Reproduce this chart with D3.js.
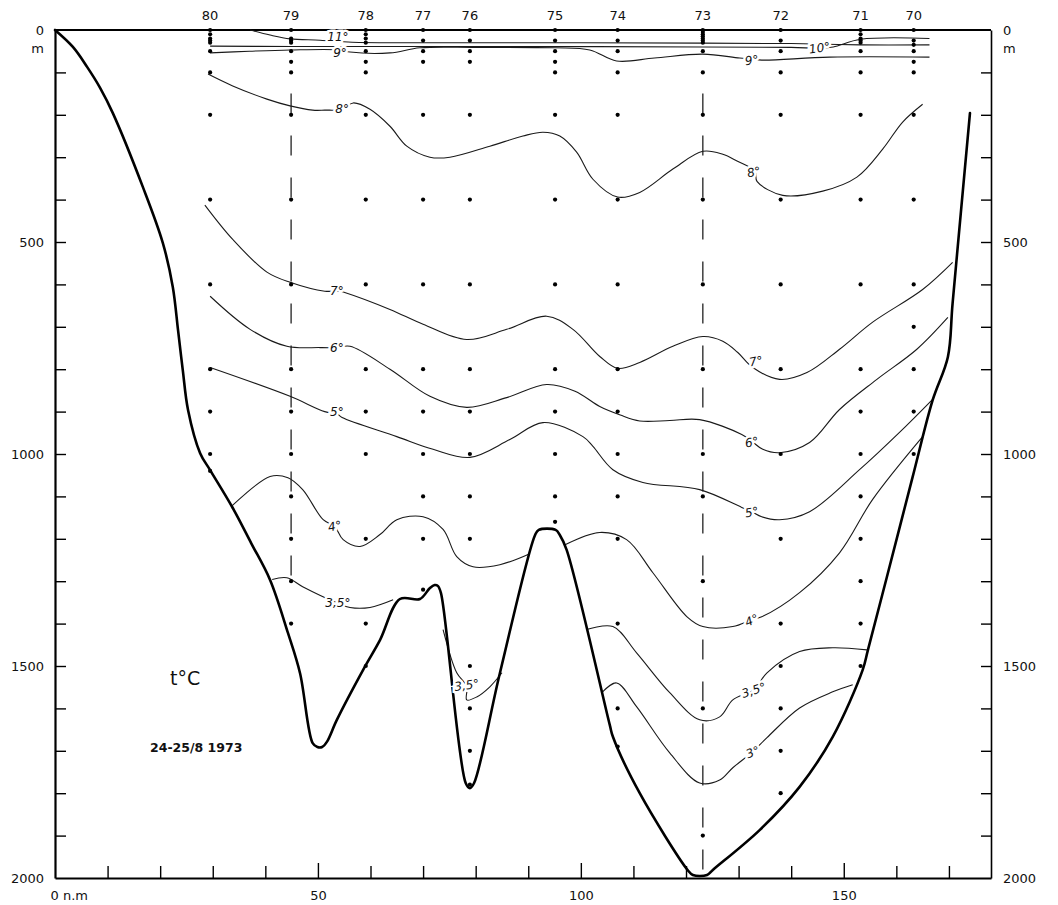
<!DOCTYPE html>
<html>
<head>
<meta charset="utf-8">
<title>t°C 24-25/8 1973</title>
<script src="https://cdn.jsdelivr.net/npm/d3@7"></script>
<style>
    body { margin:0; background:#fff; }
    svg { display:block; font-family:'DejaVu Sans', sans-serif; }
    .iso { fill:none; stroke:#1a1a1a; stroke-width:1.1; }
    .bottom { fill:none; stroke:#000; stroke-width:2.6; stroke-linejoin:round; stroke-linecap:round; }
    .dash { stroke:#222; stroke-width:1.3; stroke-dasharray:20,22; }
    .isolabel { font-style:italic; font-size:12px; fill:#111; stroke:#fff; stroke-width:5px; paint-order:stroke; }
    .axis text { font-size:13px; font-family:'DejaVu Sans', sans-serif; fill:#111; }
    .axis line { stroke:#000; stroke-width:1.4; }
    .lbl { font-size:13px; fill:#111; }
</style>
</head>
<body>
<svg id="svg" width="1058" height="905"></svg>
<script>
// stations along the section (distance in n.m)
const stations = ["80", "79", "78", "77", "76", "75", "74", "73", "72", "71", "70"];
const stationNm = [29.5, 44.9, 59.1, 70.0, 78.9, 95.1, 107.0, 123.2, 138.0, 153.2, 163.3];
// sampling depths (m) at each station
const stationDepths = [
    [0, 10, 20, 25, 30, 50, 100, 200, 400, 600, 800, 900, 1000, 1040],
    [0, 20, 25, 30, 50, 75, 100, 200, 400, 600, 800, 900, 1000, 1100, 1200, 1300, 1400],
    [0, 10, 20, 30, 50, 75, 100, 200, 400, 600, 800, 900, 1000, 1200, 1400, 1500],
    [0, 25, 50, 75, 200, 400, 600, 800, 900, 1000, 1100, 1200, 1320],
    [0, 25, 50, 75, 200, 400, 600, 800, 900, 1000, 1100, 1200, 1500, 1600, 1700, 1780],
    [0, 25, 50, 75, 100, 200, 400, 600, 800, 900, 1000, 1100, 1160],
    [0, 25, 50, 100, 200, 400, 600, 800, 900, 1000, 1100, 1200, 1400, 1600, 1690],
    [0, 5, 10, 15, 20, 25, 30, 50, 100, 200, 400, 600, 800, 1000, 1100, 1300, 1600, 1900],
    [0, 25, 50, 100, 200, 400, 600, 800, 1000, 1200, 1400, 1500, 1600, 1700, 1800],
    [0, 10, 20, 25, 30, 50, 100, 200, 400, 600, 800, 900, 1000, 1100, 1200, 1300, 1400, 1500],
    [0, 25, 35, 50, 75, 100, 200, 400, 600, 700, 800, 900, 1000]
];
// dashed verticals at stations 79 and 73
const dashedStations = ["79", "73"];
const dashTop = [150, 150];
const dashBottom = [1300, 1990];

// sea bottom profile
const bottomNm = [0, 3.4, 6.1, 8.6, 11.0, 16.7, 20.5, 22.4, 23.4, 24.3, 25.3, 27.6, 29.5, 33.7, 37.3, 40.9, 44.3, 46.6, 49.0, 49.9, 50.8, 51.7, 53.6, 58.6, 61.8, 65.6, 69.4, 71.3, 72.2, 72.8, 73.4, 78.1, 78.9, 79.7, 84.6, 91.3, 92.0, 95.2, 96.0, 97.3, 105.5, 106.1, 111.2, 120.3, 121.3, 124.0, 125.1, 134.0, 141.6, 147.9, 153.6, 154.6, 158.2, 163.1, 166.9, 169.8, 170.7, 174.0];
const bottomDepth = [0, 40, 87, 137, 196, 370, 502, 606, 708, 802, 896, 998, 1038, 1125, 1210, 1297, 1422, 1517, 1682, 1691, 1691, 1679, 1627, 1509, 1439, 1342, 1342, 1316, 1309, 1311, 1328, 1776, 1788, 1776, 1517, 1191, 1179, 1179, 1191, 1226, 1639, 1667, 1800, 1981, 1993, 1993, 1981, 1887, 1785, 1667, 1509, 1462, 1290, 1054, 873, 771, 644, 196];

// isotherms [n.m, m]
const iso11 = [[37.1, 0], [40.9, 12], [44.7, 21], [50.4, 24], [56.5, 29], [70, 30], [100, 30], [123.2, 31], [140, 32], [153.2, 35], [166.3, 35]];
const iso10 = [[29.5, 38], [45, 39], [60, 39], [90, 39], [123.2, 40], [140, 41], [145.5, 43], [148, 40], [153.2, 22], [166.3, 20]];
const iso9 = [[29.5, 54], [37, 50], [44.7, 47], [54.2, 47], [56.1, 52], [63.7, 54], [69.4, 42], [80, 41], [95, 42], [101.7, 47], [106.8, 73], [114, 66], [123.2, 57], [130.2, 66], [132.5, 68], [134.4, 71], [147.3, 64], [166.3, 64]];
const iso8 = [[29.1, 104], [33.8, 132], [40.3, 163], [44.7, 179], [49.0, 189], [51.3, 189], [54.6, 187], [56.7, 172], [59.9, 187], [63.7, 227], [66.9, 274], [71.3, 300], [75.1, 300], [82.7, 274], [89.0, 250], [92.8, 241], [96.0, 250], [99.2, 288], [102.3, 352], [107.0, 394], [111.2, 383], [117.5, 328], [123.2, 286], [127.0, 293], [129.7, 309], [133.1, 333], [133.5, 357], [138.4, 390], [146.0, 380], [152.5, 347], [157.4, 281], [161.2, 217], [165.0, 175]];
const iso7 = [[28.5, 413], [33.8, 494], [40.3, 571], [44.7, 595], [51.3, 616], [54.2, 616], [55.1, 619], [63.7, 659], [70.0, 694], [78.3, 730], [85.9, 706], [93.5, 675], [98.5, 706], [103.6, 770], [107.0, 798], [111.2, 784], [117.5, 746], [123.2, 723], [127.0, 734], [129.8, 760], [132.7, 796], [137.8, 824], [143.0, 808], [149.2, 753], [155.5, 689], [165.0, 612], [170.7, 548]];
const iso6 = [[29.5, 628], [37.1, 706], [44.1, 746], [50.4, 749], [53.6, 749], [56.1, 746], [63.7, 800], [71.3, 864], [78.3, 890], [85.9, 867], [93.5, 836], [98.9, 852], [103.6, 888], [107.5, 908], [111.2, 922], [116.9, 921], [122.6, 919], [130.6, 954], [132.5, 970], [134.6, 989], [137.8, 997], [143.5, 973], [149.2, 895], [156.3, 824], [163.9, 753], [169.8, 678]];
const iso5 = [[29.5, 796], [44.7, 864], [51.3, 900], [53.6, 905], [54.6, 914], [65.0, 959], [71.9, 989], [78.9, 1008], [86.5, 966], [92.8, 926], [100.4, 959], [102.3, 982], [106.1, 1037], [111.8, 1067], [122.6, 1084], [130.6, 1126], [132.5, 1136], [134.4, 1148], [137.8, 1155], [143.5, 1136], [153.0, 1037], [160.6, 949], [166.9, 871]];
const iso4a = [[33.7, 1122], [40.9, 1053], [44.3, 1056], [47.1, 1084], [51.0, 1155], [53.2, 1171], [54.8, 1202], [58.0, 1218], [61.8, 1190], [65.0, 1155], [70.0, 1148], [73.8, 1178], [76.4, 1242], [79.5, 1266], [84.6, 1261], [90.3, 1235]];
const iso4b = [[97.0, 1214], [103.6, 1185], [108.7, 1202], [113.7, 1280], [120.2, 1384], [123.2, 1407], [128.9, 1407], [132.5, 1391], [134.4, 1384], [141.6, 1327], [149.2, 1233], [155.5, 1107], [165.0, 959]];
const iso35a = [[41.3, 1296], [44.1, 1292], [47.1, 1313], [53.6, 1351], [56.1, 1362], [59.9, 1362], [64.3, 1344]];
const iso35b = [[73.8, 1414], [76.4, 1516], [78.3, 1548], [78.3, 1580], [80.2, 1573], [82.7, 1549], [85.0, 1516]];
const iso35c = [[101.1, 1414], [106.1, 1407], [110.6, 1469], [116.9, 1563], [122.6, 1627], [126.4, 1620], [128.9, 1580], [132.9, 1556], [135.4, 1516], [141.6, 1466], [147.9, 1457], [154.4, 1462]];
const iso3 = [[104.0, 1563], [106.8, 1540], [110.6, 1596], [116.9, 1705], [122.6, 1776], [126.4, 1769], [128.9, 1740], [132.7, 1702], [135.4, 1669], [141.6, 1599], [147.9, 1561], [151.7, 1544]];

// isotherm labels
const isoLabelText = ["11°", "9°", "8°", "7°", "6°", "5°", "4°", "3,5°", "3,5°", "10°", "9°", "8°", "7°", "6°", "5°", "4°", "3,5°", "3°"];
const isoLabelNm = [53.8, 54.2, 54.6, 53.6, 53.6, 53.6, 53.2, 53.8, 78.3, 145.4, 132.5, 132.9, 133.3, 132.5, 132.5, 132.5, 132.9, 132.7];
const isoLabelDepth = [16, 53, 187, 616, 749, 900, 1170, 1351, 1545, 42, 71, 335, 781, 972, 1137, 1392, 1557, 1703];
const isoLabelAngle = [0, 0, 0, 0, 0, 0, -10, 0, -8, -8, -8, -12, -10, -10, -10, -22, -18, -22];

// axes
const depthTicks = [0, 100, 200, 300, 400, 500, 600, 700, 800, 900, 1000, 1100, 1200, 1300, 1400, 1500, 1600, 1700, 1800, 1900, 2000];
const depthLabels = [0, 500, 1000, 1500, 2000];
const distTicks = [0, 10, 20, 30, 40, 50, 60, 70, 80, 90, 100, 110, 120, 130, 140, 150, 160, 170];
const distLabels = [0, 50, 100, 150];

const x = d3.scaleLinear().domain([0, 178]).range([55, 991]);
const y = d3.scaleLinear().domain([0, 2000]).range([30, 878]);

const svg = d3.select("#svg");

// left axis
let left = svg.append("g").attr("class", "axis")
    .attr("transform", "translate(55,0)")
    .call(d3.axisLeft(y).tickValues(depthTicks).tickSizeInner(-11).tickSizeOuter(0).tickPadding(11)
        .tickFormat(d => depthLabels.includes(d) ? d : ""));
left.select(".domain").attr("stroke-width", 2.2);
left.selectAll(".tick").filter(d => d === 0 || d === 2000).select("line").remove();

// right axis
let right = svg.append("g").attr("class", "axis")
    .attr("transform", "translate(991,0)")
    .call(d3.axisRight(y).tickValues(depthTicks).tickSizeInner(-10).tickSizeOuter(0).tickPadding(12)
        .tickFormat(d => depthLabels.includes(d) ? d : ""));
right.select(".domain").attr("stroke-width", 1.6);
right.selectAll(".tick").filter(d => d === 0 || d === 2000).select("line").remove();

// bottom axis
let bot = svg.append("g").attr("class", "axis")
    .attr("transform", "translate(0,878)")
    .call(d3.axisBottom(x).tickValues(distTicks).tickSizeInner(-12).tickSizeOuter(0).tickPadding(13)
        .tickFormat(d => d === 0 ? "0 n.m" : (distLabels.includes(d) ? d : "")));
bot.select(".domain").attr("stroke-width", 2.2);
bot.selectAll(".tick").filter(d => d === 0).select("line").remove();
bot.selectAll(".tick").filter(d => d === 0).select("text").attr("text-anchor", "start").attr("dx", -5);
bot.selectAll(".tick").filter(d => distLabels.includes(d)).select("line").attr("y2", -15);

// "m" units under the 0
svg.append("text").attr("class", "lbl").attr("x", 44).attr("y", y(0) + 23).attr("text-anchor", "end").text("m");
svg.append("text").attr("class", "lbl").attr("x", 1003).attr("y", y(0) + 23).text("m");

// sea surface line
svg.append("line")
    .attr("x1", x(0)).attr("x2", x(178))
    .attr("y1", y(0)).attr("y2", y(0))
    .attr("stroke", "#000").attr("stroke-width", 2.2);

// station numbers
svg.selectAll(".stn").data(stations).enter().append("text")
    .attr("class", "lbl stn")
    .attr("x", (d, i) => x(stationNm[i]))
    .attr("y", 20)
    .attr("text-anchor", "middle")
    .text(d => d);

// dashed station verticals
dashedStations.forEach((s, k) => {
    let i = stations.indexOf(s);
    svg.append("line").attr("class", "dash")
        .attr("x1", x(stationNm[i])).attr("x2", x(stationNm[i]))
        .attr("y1", y(dashTop[k])).attr("y2", y(dashBottom[k]));
});

// isotherm lines
const isoLine = d3.line()
    .x(d => x(d[0]))
    .y(d => y(d[1]))
    .curve(d3.curveCatmullRom.alpha(0.5));

const isotherms = [iso11, iso10, iso9, iso8, iso7, iso6, iso5, iso4a, iso4b, iso35a, iso35b, iso35c, iso3];
svg.selectAll(".iso").data(isotherms).enter().append("path")
    .attr("class", "iso")
    .attr("d", isoLine);

// observation points
stations.forEach((s, i) => {
    svg.selectAll(null).data(stationDepths[i]).enter().append("circle")
        .attr("cx", x(stationNm[i]))
        .attr("cy", d => y(d))
        .attr("r", 2.1)
        .attr("fill", "#000");
});

// sea bottom
const bottomLine = d3.line()
    .x(d => x(d[0]))
    .y(d => y(d[1]))
    .curve(d3.curveCatmullRom.alpha(0.5));
svg.append("path")
    .attr("class", "bottom")
    .attr("d", bottomLine(bottomNm.map((v, i) => [v, bottomDepth[i]])));

// isotherm labels
svg.selectAll(".isolabel").data(isoLabelText).enter().append("text")
    .attr("class", "isolabel")
    .attr("transform", (d, i) => `translate(${x(isoLabelNm[i])},${y(isoLabelDepth[i])}) rotate(${isoLabelAngle[i]})`)
    .attr("dy", "0.35em")
    .attr("text-anchor", "middle")
    .text(d => d);

// title block
svg.append("text").attr("x", 170).attr("y", 685)
    .attr("font-size", 19).attr("fill", "#111").text("t°C");
svg.append("text").attr("x", 150).attr("y", 752)
    .attr("font-size", 12.5).attr("font-weight", "bold").attr("fill", "#111").text("24-25/8 1973");
</script>
</body>
</html>
